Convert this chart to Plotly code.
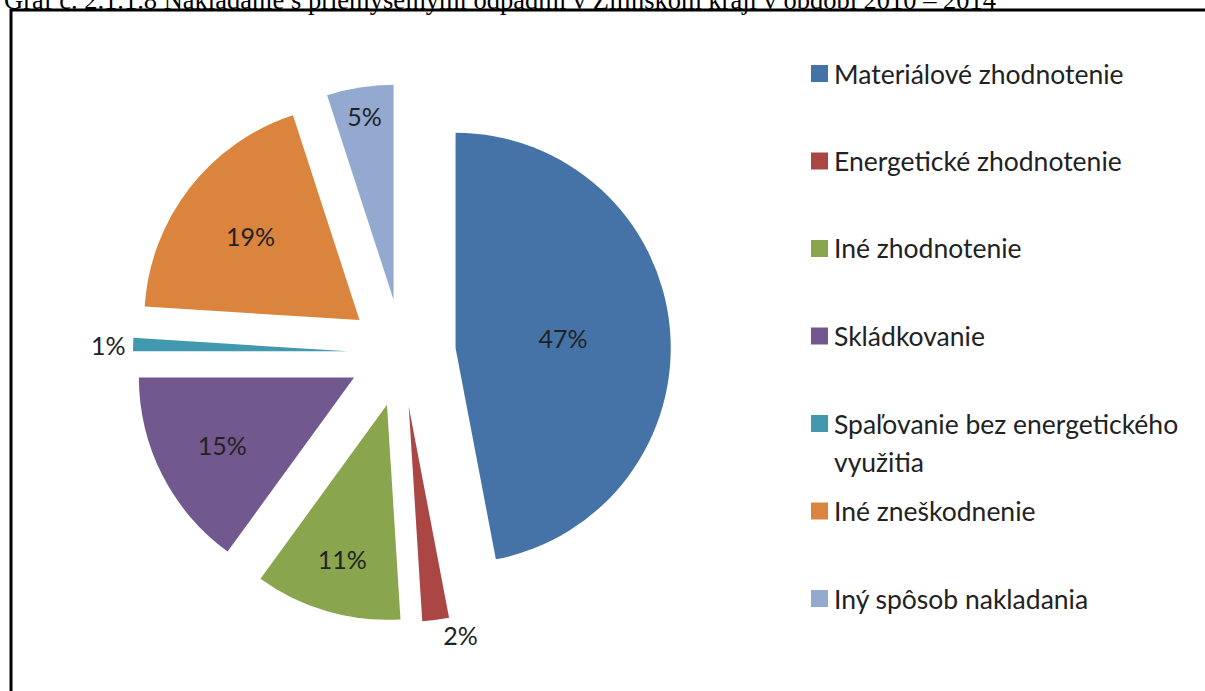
import plotly.graph_objects as go

W, H = 1205, 691

labels = [
    'Materiálové zhodnotenie',
    'Energetické zhodnotenie',
    'Iné zhodnotenie',
    'Skládkovanie',
    'Spaľovanie bez energetického|využitia',
    'Iné zneškodnenie',
    'Iný spôsob nakladania',
]
values = [47, 2, 11, 15, 1, 19, 5]
colors = ['#4573A7', '#AA4644', '#89A54E', '#71588F', '#4298AF', '#DB843D', '#93A9CF']
text_pos = ['inside', 'outside', 'inside', 'inside', 'outside', 'inside', 'inside']

title_text = 'Graf č. 2.1.1.8 Nakladanie s priemyselnými odpadmi v Žilinskom kraji v období 2010 – 2014'


def px(x):
    return x / W


def py(y):
    return 1 - y / H


fig = go.Figure()

# pie centre (402, 353), radius ~215 with 25% explosion
cx, cy, half = 402, 353, 269
fig.add_trace(go.Pie(
    labels=[l.replace('|', ' ') for l in labels],
    values=values,
    marker=dict(colors=colors, line=dict(width=0)),
    sort=False,
    direction='clockwise',
    rotation=0,
    pull=[0.25] * len(values),
    textinfo='percent',
    texttemplate='%{percent:.0%}',
    textposition=text_pos,
    insidetextorientation='horizontal',
    textfont=dict(family='Lato', size=25, color='#222222'),
    domain=dict(x=[px(cx - half), px(cx + half)], y=[py(cy + half), py(cy - half)]),
    showlegend=False,
))

# legend drawn by hand so item spacing matches
annotations = []
shapes = []
for i, (lab, col) in enumerate(zip(labels, colors)):
    yc = 73.5 + 87.5 * i
    shapes.append(dict(type='rect', xref='paper', yref='paper',
                       x0=px(811), x1=px(828), y0=py(yc + 8.5), y1=py(yc - 8.5),
                       fillcolor=col, line=dict(width=0)))
    for j, part in enumerate(lab.split('|')):
        annotations.append(dict(text=part, xref='paper', yref='paper',
                                x=px(832), y=py(yc + 38 * j), xanchor='left', yanchor='middle',
                                showarrow=False, font=dict(family='Lato', size=26.5, color='#222222')))

# caption above the frame, cut by the top edge like in the scan
annotations.append(dict(text=title_text, xref='paper', yref='paper',
                        x=px(2), y=py(17), xanchor='left', yanchor='bottom', showarrow=False,
                        font=dict(family='Liberation Serif', size=26.5, color='black')))

# frame
shapes.append(dict(type='rect', xref='paper', yref='paper',
                   x0=px(11), x1=px(1230), y0=py(720), y1=py(10),
                   line=dict(color='black', width=3), fillcolor='rgba(0,0,0,0)'))

fig.update_layout(
    width=W, height=H,
    margin=dict(l=0, r=0, t=0, b=0, autoexpand=False),
    paper_bgcolor='white',
    plot_bgcolor='white',
    annotations=annotations,
    shapes=shapes,
)

# no default 8px body margin, so the figure sits at the page corner
fig.write_html('out.html', config={'displayModeBar': False},
               post_script="document.body.style.margin='0';")
